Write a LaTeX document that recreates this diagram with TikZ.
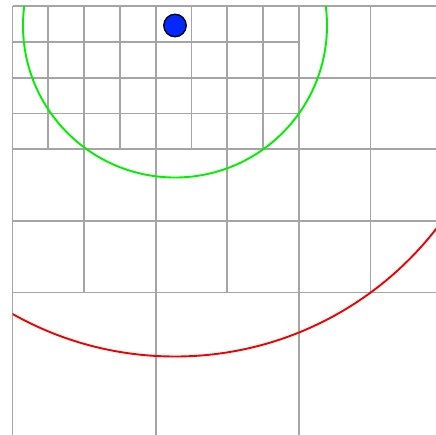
\documentclass[tikz,border=0pt]{standalone}
\definecolor{gridgray}{RGB}{165,165,165}
\definecolor{arcgreen}{RGB}{0,240,0}
\definecolor{arcred}{RGB}{240,0,0}
\definecolor{dotblue}{RGB}{0,40,255}
\tikzset{
  gridline/.style={draw=gridgray, line width=1.8pt},
  greenarc/.style={draw=arcgreen, line width=1.9pt},
  redarc/.style={draw=arcred, line width=1.9pt},
  dotnode/.style={circle, fill=dotblue, draw=black, line width=1.3pt, minimum size=22.5pt, inner sep=0pt}
}
\begin{document}
\begin{tikzpicture}[x=1pt, y=-1pt]
\useasboundingbox (0,0) rectangle (436,434);
\fill[white] (0,0) rectangle (436,434);
\clip (0,0) rectangle (436,434);
% quadtree grid
\begin{scope}[shift={(12.5,6)}, x=35.8pt, y=-35.8pt]
  % vertical lines
  \foreach \xx/\yy in {0/12,1/4,2/8,3/4,4/12,5/4,6/8,7/4,8/12,10/8,12/12}
    \draw[gridline] (\xx,0) -- (\xx,\yy);
  % horizontal lines
  \foreach \yy/\xx in {0/12,1/8,2/12,3/8,4/12,6/12,8/12,12/12}
    \draw[gridline] (0,\yy) -- (\xx,\yy);
\end{scope}
% query centre
\coordinate (c) at (175,25.5);
% arcs clipped to the domain
\begin{scope}
  \clip (12.5,6) rectangle (442,435.6);
  \draw[greenarc] (c) circle[radius=152];
  \draw[redarc] (c) circle[radius=331];
\end{scope}
% search point
\node[dotnode] (dot) at (c) {};
\end{tikzpicture}
\end{document}
